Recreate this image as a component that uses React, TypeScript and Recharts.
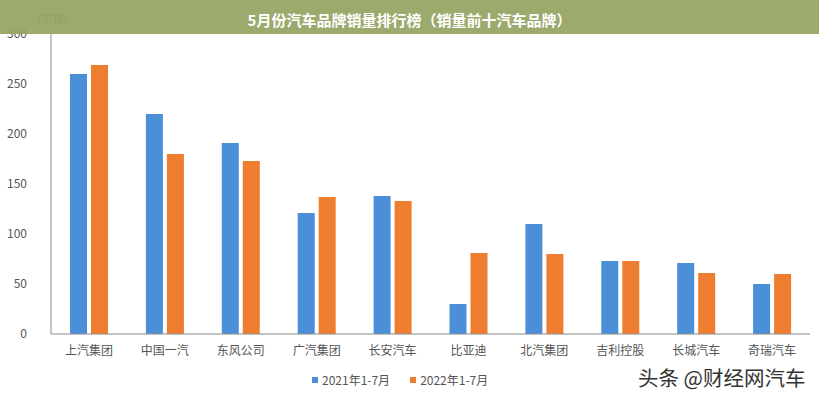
import { BarChart, Bar, XAxis, YAxis } from 'recharts'

const brands = ['上汽集团', '中国一汽', '东风公司', '广汽集团', '长安汽车', '比亚迪', '北汽集团', '吉利控股', '长城汽车', '奇瑞汽车']
const sales2021 = [260, 220, 191, 121, 138, 30, 110, 73, 71, 50]
const sales2022 = [269, 180, 173, 137, 133, 81, 80, 73, 61, 60]
const yTicks = [0, 50, 100, 150, 200, 250, 300]
const seriesNames = ['2021年1-7月', '2022年1-7月']
const seriesColors = ['#4a8fd8', '#ee7d2f']

const data = brands.map((name, i) => ({ name, a: sales2021[i], b: sales2022[i] }))

const font = '"Noto Sans CJK SC", "Noto Sans", sans-serif'

export default function App() {
  return (
    <div style={{ position: 'absolute', top: 0, left: 0, width: 819, height: 400, background: '#fff', fontFamily: font, overflow: 'hidden' }}>
      <div style={{ position: 'absolute', left: 31, top: 11, fontSize: 11, color: '#777' }}>（万辆）</div>
      <BarChart
        width={819}
        height={400}
        data={data}
        margin={{ top: 34, right: 9, bottom: 36, left: 0 }}
        barSize={17}
        barGap={4}
      >
        <XAxis
          dataKey="name"
          height={30}
          tickLine={false}
          axisLine={{ stroke: '#8a8a8a' }}
          tick={{ fontSize: 12, fill: '#555', fontFamily: font }}
          tickMargin={6}
          interval={0}
        />
        <YAxis
          width={51}
          domain={[0, 300]}
          ticks={yTicks}
          tickLine={false}
          axisLine={{ stroke: '#8a8a8a' }}
          tick={{ fontSize: 12, fill: '#555', fontFamily: font }}
          tickMargin={18}
        />
        <Bar dataKey="a" fill={seriesColors[0]} isAnimationActive={false} />
        <Bar dataKey="b" fill={seriesColors[1]} isAnimationActive={false} />
      </BarChart>
      <div style={{ position: 'absolute', top: 371, left: 312, display: 'flex', gap: 20, fontSize: 12, color: '#555' }}>
        {seriesNames.map((n, i) => (
          <div key={n} style={{ display: 'flex', alignItems: 'center', gap: 4 }}>
            <span style={{ width: 6, height: 6, background: seriesColors[i], display: 'inline-block' }} />
            {n}
          </div>
        ))}
      </div>
      <div style={{ position: 'absolute', top: 362, left: 638, fontSize: 20.5, color: '#333' }}>头条 @财经网汽车</div>
      <div style={{ position: 'absolute', top: 0, left: 0, width: 819, height: 34, background: 'rgba(150,164,98,0.93)', color: '#fff', fontWeight: 'bold', fontSize: 15, textAlign: 'center', lineHeight: '40px' }}>
        5月份汽车品牌销量排行榜（销量前十汽车品牌）
      </div>
    </div>
  )
}
